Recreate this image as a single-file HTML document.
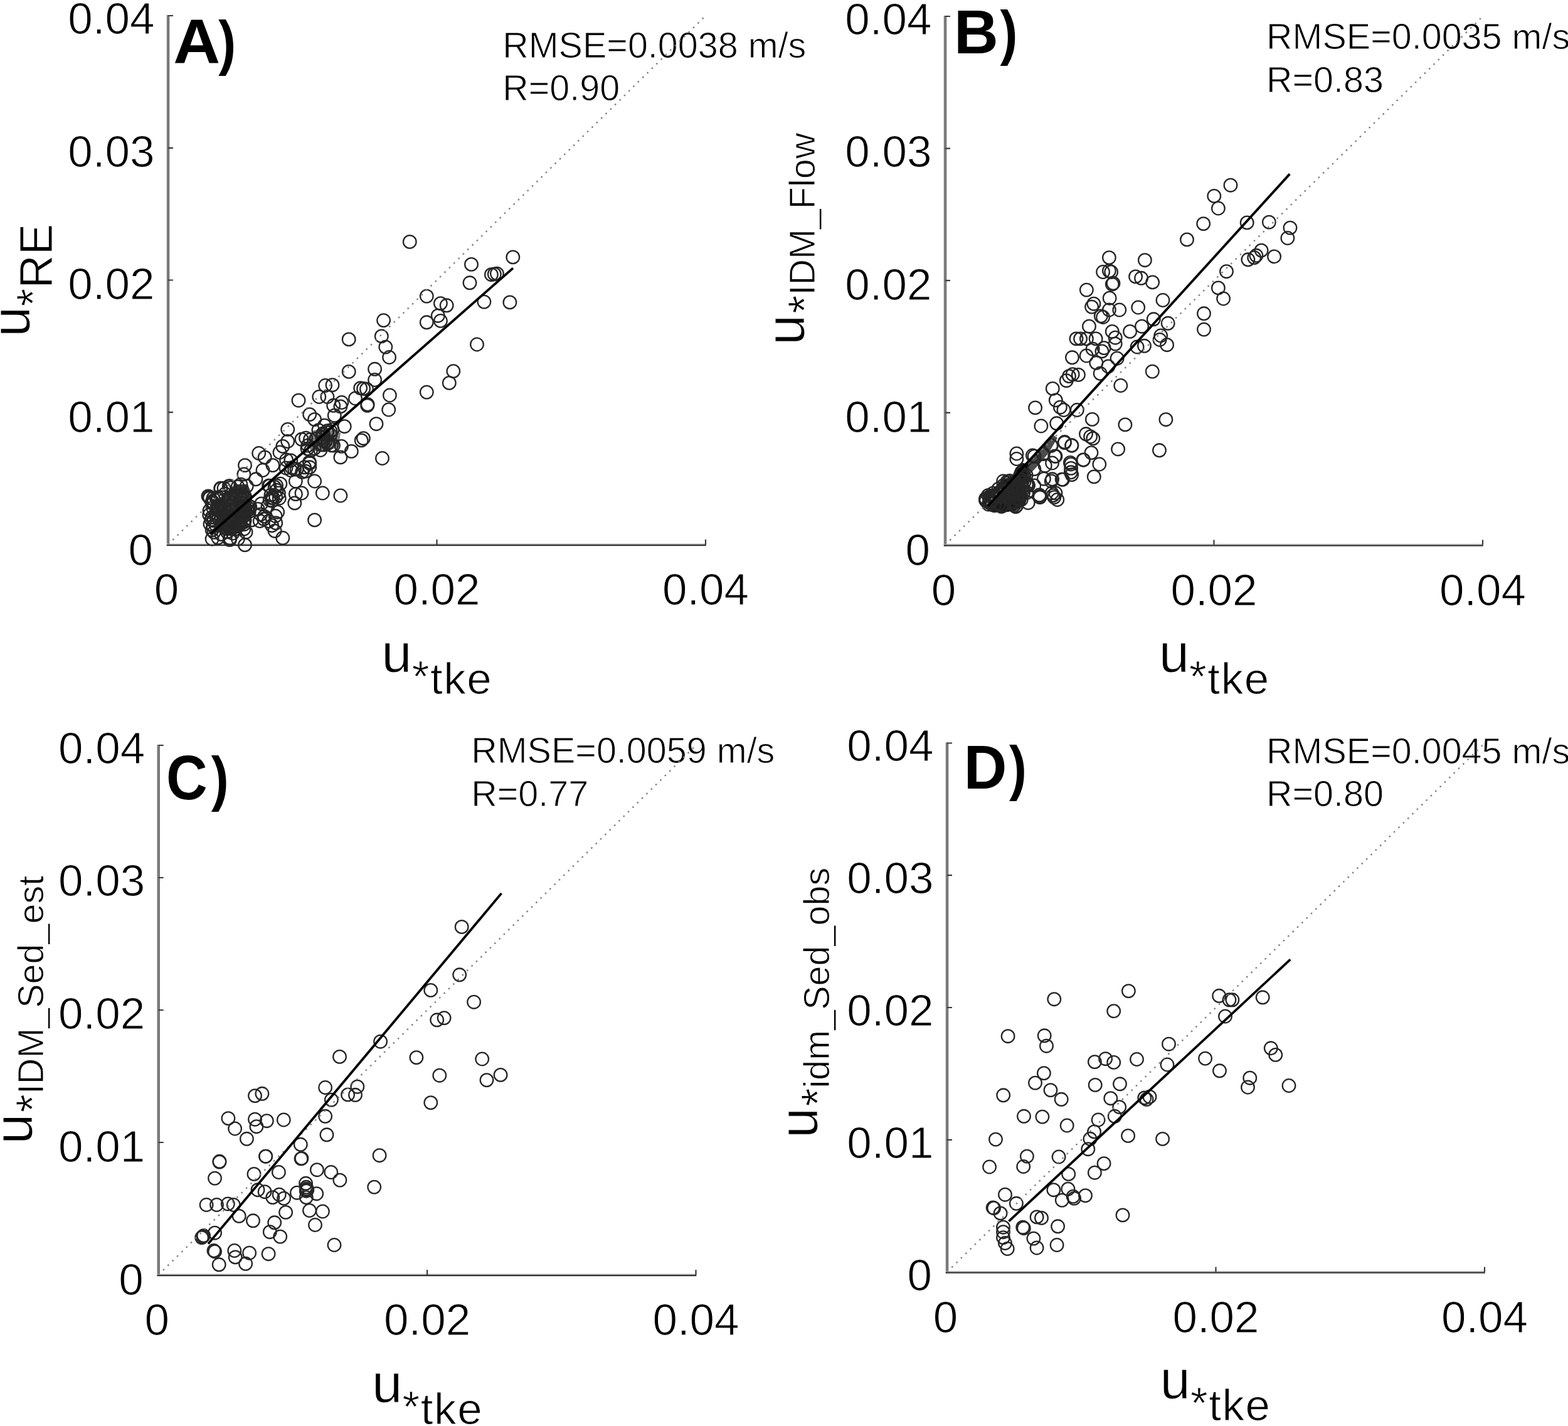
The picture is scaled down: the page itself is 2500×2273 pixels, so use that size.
<!DOCTYPE html>
<html><head><meta charset="utf-8"><title>u* comparison scatter plots</title>
<style>html,body{margin:0;padding:0;background:#fff;}svg{display:block;}.t{stroke:#fff;stroke-width:1px;}</style></head>
<body><svg xmlns="http://www.w3.org/2000/svg" width="2500" height="2273" viewBox="0 0 2500 2273" font-family="'Liberation Sans', Arial, Helvetica, sans-serif" fill="#000">
<rect width="2500" height="2273" fill="#fff"/>
<rect x="265.8" y="24.0" width="2.8" height="846.0" fill="#7a7a7a"/>
<rect x="268.6" y="24.0" width="1.5" height="846.0" fill="#555"/>
<rect x="265.8" y="866.3" width="860.0" height="1.7" fill="#bdbdbd"/>
<rect x="265.8" y="868.0" width="860.0" height="2.2" fill="#2e2e2e"/>
<path d="M268.0,657.2h8 M268.0,446.5h8 M268.0,235.8h8 M268.0,25.0h8 M696.5,868.0v-8 M1125.0,868.0v-8" stroke="#3a3a3a" stroke-width="2.2" fill="none"/>
<text x="244.0" y="901.0" class="t" text-anchor="end" font-size="71">0</text>
<text x="246.5" y="689.1" class="t" text-anchor="end" font-size="71">0.01</text>
<text x="246.5" y="477.3" class="t" text-anchor="end" font-size="71">0.02</text>
<text x="246.5" y="265.5" class="t" text-anchor="end" font-size="71">0.03</text>
<text x="246.5" y="53.6" class="t" text-anchor="end" font-size="71">0.04</text>
<text x="265.5" y="964.0" class="t" text-anchor="middle" font-size="71">0</text>
<text x="696.5" y="964.0" class="t" text-anchor="middle" font-size="71">0.02</text>
<text x="1125.0" y="964.0" class="t" text-anchor="middle" font-size="71">0.04</text>
<rect x="1504.8" y="25.0" width="2.8" height="845.5" fill="#7a7a7a"/>
<rect x="1507.6" y="25.0" width="1.5" height="845.5" fill="#555"/>
<rect x="1504.8" y="866.8" width="860.0" height="1.7" fill="#bdbdbd"/>
<rect x="1504.8" y="868.5" width="860.0" height="2.2" fill="#2e2e2e"/>
<path d="M1507.0,657.9h8 M1507.0,447.2h8 M1507.0,236.6h8 M1507.0,26.0h8 M1935.5,868.5v-8 M2364.0,868.5v-8" stroke="#3a3a3a" stroke-width="2.2" fill="none"/>
<text x="1483.0" y="900.7" class="t" text-anchor="end" font-size="71">0</text>
<text x="1485.5" y="689.2" class="t" text-anchor="end" font-size="71">0.01</text>
<text x="1485.5" y="477.7" class="t" text-anchor="end" font-size="71">0.02</text>
<text x="1485.5" y="266.1" class="t" text-anchor="end" font-size="71">0.03</text>
<text x="1485.5" y="54.6" class="t" text-anchor="end" font-size="71">0.04</text>
<text x="1504.5" y="964.5" class="t" text-anchor="middle" font-size="71">0</text>
<text x="1935.5" y="964.5" class="t" text-anchor="middle" font-size="71">0.02</text>
<text x="2364.0" y="964.5" class="t" text-anchor="middle" font-size="71">0.04</text>
<rect x="250.5" y="1187.0" width="2.8" height="847.0" fill="#7a7a7a"/>
<rect x="253.3" y="1187.0" width="1.5" height="847.0" fill="#555"/>
<rect x="250.5" y="2030.3" width="859.8" height="1.7" fill="#bdbdbd"/>
<rect x="250.5" y="2032.0" width="859.8" height="2.2" fill="#2e2e2e"/>
<path d="M252.7,1821.0h8 M252.7,1610.0h8 M252.7,1399.0h8 M252.7,1188.0h8 M681.1,2032.0v-8 M1109.5,2032.0v-8" stroke="#3a3a3a" stroke-width="2.2" fill="none"/>
<text x="228.7" y="2063.5" class="t" text-anchor="end" font-size="71">0</text>
<text x="231.2" y="1851.8" class="t" text-anchor="end" font-size="71">0.01</text>
<text x="231.2" y="1640.1" class="t" text-anchor="end" font-size="71">0.02</text>
<text x="231.2" y="1428.3" class="t" text-anchor="end" font-size="71">0.03</text>
<text x="231.2" y="1216.6" class="t" text-anchor="end" font-size="71">0.04</text>
<text x="250.2" y="2128.0" class="t" text-anchor="middle" font-size="71">0</text>
<text x="681.1" y="2128.0" class="t" text-anchor="middle" font-size="71">0.02</text>
<text x="1109.5" y="2128.0" class="t" text-anchor="middle" font-size="71">0.04</text>
<rect x="1507.8" y="1183.5" width="2.8" height="846.0" fill="#7a7a7a"/>
<rect x="1510.6" y="1183.5" width="1.5" height="846.0" fill="#555"/>
<rect x="1507.8" y="2025.8" width="860.0" height="1.7" fill="#bdbdbd"/>
<rect x="1507.8" y="2027.5" width="860.0" height="2.2" fill="#2e2e2e"/>
<path d="M1510.0,1816.8h8 M1510.0,1606.0h8 M1510.0,1395.2h8 M1510.0,1184.5h8 M1938.5,2027.5v-8 M2367.0,2027.5v-8" stroke="#3a3a3a" stroke-width="2.2" fill="none"/>
<text x="1486.0" y="2057.3" class="t" text-anchor="end" font-size="71">0</text>
<text x="1488.5" y="1846.2" class="t" text-anchor="end" font-size="71">0.01</text>
<text x="1488.5" y="1635.2" class="t" text-anchor="end" font-size="71">0.02</text>
<text x="1488.5" y="1424.1" class="t" text-anchor="end" font-size="71">0.03</text>
<text x="1488.5" y="1213.1" class="t" text-anchor="end" font-size="71">0.04</text>
<text x="1507.5" y="2123.5" class="t" text-anchor="middle" font-size="71">0</text>
<text x="1938.5" y="2123.5" class="t" text-anchor="middle" font-size="71">0.02</text>
<text x="2367.0" y="2123.5" class="t" text-anchor="middle" font-size="71">0.04</text>
<text x="608.3" y="1071.4" class="t" font-size="87">u<tspan font-size="71" dy="32" letter-spacing="1.6">*</tspan><tspan font-size="71" dy="3" letter-spacing="1.6">tke</tspan></text>
<text transform="translate(46.5,537.0) rotate(-90)" class="t" font-size="87">u<tspan font-size="74" dy="31">*</tspan><tspan font-size="74" dy="5">RE</tspan></text>
<text transform="translate(276.3,101.2) scale(1.03,1)" font-size="100.7" font-weight="bold">A</text>
<text transform="translate(348.3,100.9) scale(0.87,1)" font-size="96.3" font-weight="bold">)</text>
<text x="801.2" y="91.9" class="t" font-size="57.5">RMSE=0.0038 m/s</text>
<text x="801.2" y="160.3" class="t" font-size="57.5">R=0.90</text>
<text x="1847.7" y="1071.4" class="t" font-size="87">u<tspan font-size="71" dy="32" letter-spacing="1.6">*</tspan><tspan font-size="71" dy="3" letter-spacing="1.6">tke</tspan></text>
<text transform="translate(1281.5,550.1) rotate(-90)" class="t" font-size="87">u<tspan font-size="75" dy="26" dx="2">*</tspan><tspan font-size="57.5" dy="-8.2">IDM_Flow</tspan></text>
<text transform="translate(1521.1,84.8) scale(0.99,1)" font-size="99" font-weight="bold">B</text>
<text transform="translate(1594.6,85.0) scale(0.87,1)" font-size="96.3" font-weight="bold">)</text>
<text x="2019.0" y="78.3" class="t" font-size="57.5">RMSE=0.0035 m/s</text>
<text x="2019.0" y="146.5" class="t" font-size="57.5">R=0.83</text>
<text x="593.1" y="2235.1" class="t" font-size="87">u<tspan font-size="71" dy="32" letter-spacing="1.6">*</tspan><tspan font-size="71" dy="3" letter-spacing="1.6">tke</tspan></text>
<text transform="translate(51.0,1823.7) rotate(-90)" class="t" font-size="87">u<tspan font-size="75" dy="26" dx="2">*</tspan><tspan font-size="57.5" dy="-8.0">IDM_Sed_est</tspan></text>
<text transform="translate(265.0,1273.7) scale(0.9,1)" font-size="101" font-weight="bold">C</text>
<text transform="translate(336.8,1273.9) scale(0.87,1)" font-size="96.3" font-weight="bold">)</text>
<text x="751.2" y="1216.2" class="t" font-size="57.5">RMSE=0.0059 m/s</text>
<text x="751.2" y="1285.1" class="t" font-size="57.5">R=0.77</text>
<text x="1849.5" y="2228.6" class="t" font-size="87">u<tspan font-size="71" dy="32" letter-spacing="1.6">*</tspan><tspan font-size="71" dy="3" letter-spacing="1.6">tke</tspan></text>
<text transform="translate(1303.0,1814.0) rotate(-90)" class="t" font-size="87">u<tspan font-size="75" dy="26" dx="2">*</tspan><tspan font-size="57.5" dy="-7.0">idm_Sed_obs</tspan></text>
<text transform="translate(1536.8,1256.9) scale(0.96,1)" font-size="99" font-weight="bold">D</text>
<text transform="translate(1609.0,1257.0) scale(0.87,1)" font-size="96.3" font-weight="bold">)</text>
<text x="2019.0" y="1216.5" class="t" font-size="57.5">RMSE=0.0045 m/s</text>
<text x="2019.0" y="1285.2" class="t" font-size="57.5">R=0.80</text>
<path d="M345.0,800.0L360.0,785.0L375.0,772.0L395.0,772.0L402.0,790.0L400.0,820.0L390.0,845.0L370.0,855.0L352.0,852.0L345.0,835.0Z" fill="#000" fill-opacity="0.8"/>
<path d="M488.0,700.0L500.0,686.0L520.0,684.0L543.0,690.0L540.0,712.0L520.0,720.0L495.0,718.0Z" fill="#000" fill-opacity="0.5"/>
<path d="M1566.9,789.2L1574.9,781.3L1589.8,777.3L1592.7,768.4L1604.6,762.4L1614.6,757.5L1619.5,745.6L1629.4,737.6L1639.4,740.0L1639.4,764.4L1631.4,774.3L1639.4,789.2L1634.4,804.1L1619.5,814.0L1599.7,817.0L1579.8,816.0L1567.9,809.0Z" fill="#000" fill-opacity="0.9"/>
<path d="M1622.0,750.0L1640.0,733.0L1662.0,712.0L1680.0,694.0L1686.0,698.0L1672.0,722.0L1655.0,742.0L1640.0,758.0L1628.0,762.0Z" fill="#000" fill-opacity="0.7"/>
<g fill="none" stroke="#262626" stroke-width="2.3"><circle cx="653.3" cy="385.4" r="10.3"/><circle cx="817.8" cy="409.9" r="10.3"/><circle cx="751.5" cy="421.4" r="10.3"/><circle cx="749.0" cy="450.8" r="10.3"/><circle cx="783.4" cy="437.7" r="10.3"/><circle cx="788.3" cy="436.9" r="10.3"/><circle cx="792.4" cy="436.1" r="10.3"/><circle cx="771.9" cy="481.1" r="10.3"/><circle cx="812.9" cy="481.9" r="10.3"/><circle cx="680.3" cy="472.1" r="10.3"/><circle cx="702.4" cy="483.6" r="10.3"/><circle cx="712.2" cy="486.8" r="10.3"/><circle cx="698.3" cy="503.2" r="10.3"/><circle cx="702.4" cy="511.4" r="10.3"/><circle cx="680.3" cy="513.8" r="10.3"/><circle cx="611.6" cy="510.6" r="10.3"/><circle cx="608.3" cy="535.9" r="10.3"/><circle cx="614.8" cy="553.1" r="10.3"/><circle cx="620.6" cy="569.5" r="10.3"/><circle cx="760.5" cy="549.0" r="10.3"/><circle cx="597.6" cy="588.3" r="10.3"/><circle cx="597.6" cy="605.5" r="10.3"/><circle cx="722.8" cy="591.6" r="10.3"/><circle cx="716.3" cy="610.4" r="10.3"/><circle cx="574.7" cy="618.6" r="10.3"/><circle cx="579.6" cy="619.4" r="10.3"/><circle cx="584.5" cy="620.2" r="10.3"/><circle cx="621.4" cy="630.0" r="10.3"/><circle cx="680.3" cy="625.1" r="10.3"/><circle cx="586.2" cy="644.8" r="10.3"/><circle cx="566.5" cy="635.0" r="10.3"/><circle cx="619.7" cy="653.0" r="10.3"/><circle cx="556.2" cy="540.9" r="10.3"/><circle cx="556.2" cy="592.4" r="10.3"/><circle cx="518.6" cy="614.5" r="10.3"/><circle cx="530.0" cy="613.7" r="10.3"/><circle cx="508.8" cy="632.5" r="10.3"/><circle cx="521.9" cy="632.5" r="10.3"/><circle cx="476.0" cy="638.2" r="10.3"/><circle cx="544.8" cy="641.5" r="10.3"/><circle cx="585.7" cy="646.3" r="10.3"/><circle cx="531.7" cy="646.3" r="10.3"/><circle cx="542.9" cy="647.9" r="10.3"/><circle cx="493.7" cy="660.6" r="10.3"/><circle cx="501.6" cy="668.6" r="10.3"/><circle cx="533.3" cy="662.2" r="10.3"/><circle cx="549.2" cy="679.7" r="10.3"/><circle cx="600.0" cy="675.7" r="10.3"/><circle cx="517.5" cy="678.1" r="10.3"/><circle cx="458.7" cy="684.4" r="10.3"/><circle cx="579.4" cy="698.7" r="10.3"/><circle cx="576.2" cy="701.9" r="10.3"/><circle cx="481.0" cy="700.3" r="10.3"/><circle cx="544.4" cy="711.4" r="10.3"/><circle cx="528.6" cy="709.8" r="10.3"/><circle cx="560.3" cy="719.4" r="10.3"/><circle cx="542.9" cy="728.9" r="10.3"/><circle cx="609.5" cy="730.5" r="10.3"/><circle cx="412.7" cy="722.5" r="10.3"/><circle cx="422.2" cy="728.9" r="10.3"/><circle cx="446.0" cy="721.0" r="10.3"/><circle cx="450.8" cy="711.4" r="10.3"/><circle cx="458.7" cy="703.5" r="10.3"/><circle cx="390.5" cy="741.6" r="10.3"/><circle cx="388.9" cy="755.9" r="10.3"/><circle cx="419.0" cy="749.5" r="10.3"/><circle cx="434.9" cy="741.6" r="10.3"/><circle cx="407.9" cy="763.8" r="10.3"/><circle cx="493.7" cy="738.4" r="10.3"/><circle cx="493.7" cy="744.8" r="10.3"/><circle cx="463.5" cy="749.5" r="10.3"/><circle cx="473.0" cy="747.9" r="10.3"/><circle cx="487.3" cy="751.1" r="10.3"/><circle cx="471.4" cy="767.0" r="10.3"/><circle cx="501.6" cy="767.0" r="10.3"/><circle cx="514.3" cy="786.0" r="10.3"/><circle cx="542.9" cy="790.0" r="10.3"/><circle cx="471.4" cy="787.6" r="10.3"/><circle cx="481.0" cy="786.0" r="10.3"/><circle cx="469.8" cy="801.9" r="10.3"/><circle cx="441.3" cy="781.3" r="10.3"/><circle cx="438.1" cy="776.5" r="10.3"/><circle cx="444.4" cy="786.0" r="10.3"/><circle cx="439.7" cy="792.4" r="10.3"/><circle cx="501.6" cy="828.9" r="10.3"/><circle cx="357.1" cy="778.1" r="10.3"/><circle cx="366.7" cy="774.9" r="10.3"/><circle cx="338.1" cy="859.0" r="10.3"/><circle cx="390.5" cy="868.6" r="10.3"/><circle cx="450.8" cy="857.5" r="10.3"/><circle cx="438.1" cy="846.3" r="10.3"/><circle cx="439.7" cy="833.7" r="10.3"/><circle cx="420.6" cy="827.3" r="10.3"/><circle cx="414.3" cy="830.5" r="10.3"/><circle cx="427.0" cy="806.7" r="10.3"/><circle cx="411.1" cy="811.4" r="10.3"/><circle cx="430.2" cy="797.1" r="10.3"/><circle cx="339.7" cy="838.4" r="10.3"/><circle cx="366.7" cy="859.0" r="10.3"/><circle cx="379.4" cy="859.0" r="10.3"/><circle cx="388.9" cy="843.2" r="10.3"/><circle cx="401.6" cy="828.9" r="10.3"/><circle cx="341.1" cy="848.3" r="10.3"/><circle cx="383.9" cy="795.0" r="10.3"/><circle cx="365.7" cy="812.5" r="10.3"/><circle cx="376.3" cy="843.0" r="10.3"/><circle cx="388.8" cy="810.9" r="10.3"/><circle cx="383.8" cy="772.2" r="10.3"/><circle cx="362.3" cy="836.9" r="10.3"/><circle cx="347.6" cy="857.1" r="10.3"/><circle cx="393.3" cy="774.8" r="10.3"/><circle cx="333.7" cy="820.7" r="10.3"/><circle cx="395.9" cy="806.3" r="10.3"/><circle cx="346.7" cy="810.0" r="10.3"/><circle cx="334.0" cy="792.0" r="10.3"/><circle cx="361.8" cy="816.6" r="10.3"/><circle cx="347.8" cy="792.8" r="10.3"/><circle cx="346.9" cy="813.4" r="10.3"/><circle cx="389.0" cy="822.1" r="10.3"/><circle cx="375.7" cy="788.7" r="10.3"/><circle cx="340.2" cy="801.9" r="10.3"/><circle cx="381.1" cy="836.0" r="10.3"/><circle cx="395.7" cy="810.0" r="10.3"/><circle cx="388.4" cy="832.3" r="10.3"/><circle cx="352.6" cy="824.9" r="10.3"/><circle cx="392.0" cy="848.2" r="10.3"/><circle cx="366.4" cy="825.0" r="10.3"/><circle cx="334.3" cy="793.8" r="10.3"/><circle cx="386.2" cy="809.3" r="10.3"/><circle cx="343.8" cy="821.4" r="10.3"/><circle cx="379.8" cy="832.7" r="10.3"/><circle cx="357.5" cy="811.5" r="10.3"/><circle cx="366.6" cy="842.1" r="10.3"/><circle cx="367.4" cy="807.4" r="10.3"/><circle cx="365.3" cy="774.7" r="10.3"/><circle cx="335.0" cy="835.3" r="10.3"/><circle cx="358.8" cy="787.3" r="10.3"/><circle cx="366.2" cy="860.4" r="10.3"/><circle cx="384.4" cy="820.6" r="10.3"/><circle cx="390.5" cy="792.9" r="10.3"/><circle cx="366.9" cy="857.7" r="10.3"/><circle cx="371.3" cy="813.3" r="10.3"/><circle cx="526.8" cy="692.9" r="10.3"/><circle cx="523.3" cy="705.5" r="10.3"/><circle cx="522.0" cy="686.7" r="10.3"/><circle cx="513.7" cy="696.5" r="10.3"/><circle cx="514.5" cy="691.3" r="10.3"/><circle cx="515.6" cy="693.4" r="10.3"/><circle cx="510.9" cy="717.5" r="10.3"/><circle cx="518.9" cy="703.5" r="10.3"/><circle cx="507.9" cy="685.7" r="10.3"/><circle cx="527.1" cy="687.6" r="10.3"/><circle cx="531.5" cy="710.0" r="10.3"/><circle cx="515.4" cy="702.3" r="10.3"/><circle cx="415.7" cy="819.9" r="10.3"/><circle cx="421.6" cy="823.2" r="10.3"/><circle cx="433.2" cy="793.6" r="10.3"/><circle cx="416.7" cy="802.9" r="10.3"/><circle cx="442.6" cy="816.2" r="10.3"/><circle cx="433.8" cy="798.3" r="10.3"/><circle cx="433.6" cy="837.7" r="10.3"/><circle cx="428.5" cy="830.8" r="10.3"/><circle cx="435.2" cy="793.5" r="10.3"/><circle cx="439.1" cy="822.5" r="10.3"/><circle cx="362.8" cy="822.4" r="10.3"/><circle cx="394.8" cy="813.9" r="10.3"/><circle cx="366.5" cy="824.9" r="10.3"/><circle cx="344.6" cy="818.1" r="10.3"/><circle cx="374.8" cy="843.4" r="10.3"/><circle cx="338.4" cy="799.3" r="10.3"/><circle cx="338.2" cy="844.9" r="10.3"/><circle cx="379.2" cy="775.8" r="10.3"/><circle cx="376.5" cy="827.4" r="10.3"/><circle cx="367.9" cy="777.4" r="10.3"/><circle cx="344.9" cy="793.8" r="10.3"/><circle cx="334.0" cy="813.8" r="10.3"/><circle cx="362.0" cy="847.8" r="10.3"/><circle cx="367.3" cy="829.6" r="10.3"/><circle cx="366.0" cy="831.6" r="10.3"/><circle cx="363.1" cy="797.0" r="10.3"/><circle cx="389.1" cy="835.7" r="10.3"/><circle cx="353.4" cy="792.7" r="10.3"/><circle cx="351.7" cy="778.3" r="10.3"/><circle cx="384.1" cy="808.0" r="10.3"/><circle cx="389.6" cy="806.8" r="10.3"/><circle cx="332.0" cy="790.9" r="10.3"/><circle cx="393.9" cy="814.3" r="10.3"/><circle cx="398.7" cy="807.8" r="10.3"/><circle cx="337.0" cy="828.7" r="10.3"/><circle cx="384.9" cy="796.3" r="10.3"/><circle cx="337.9" cy="801.9" r="10.3"/><circle cx="340.0" cy="794.2" r="10.3"/><circle cx="386.2" cy="788.0" r="10.3"/><circle cx="370.0" cy="812.3" r="10.3"/><circle cx="345.0" cy="837.9" r="10.3"/><circle cx="340.9" cy="829.9" r="10.3"/><circle cx="339.9" cy="809.9" r="10.3"/><circle cx="346.5" cy="796.3" r="10.3"/><circle cx="352.7" cy="851.6" r="10.3"/><circle cx="346.3" cy="807.5" r="10.3"/><circle cx="390.1" cy="829.8" r="10.3"/><circle cx="346.5" cy="795.2" r="10.3"/><circle cx="384.5" cy="801.6" r="10.3"/><circle cx="352.2" cy="778.6" r="10.3"/><circle cx="338.1" cy="824.4" r="10.3"/><circle cx="348.5" cy="826.1" r="10.3"/><circle cx="357.3" cy="812.8" r="10.3"/><circle cx="397.2" cy="815.5" r="10.3"/><circle cx="371.1" cy="850.0" r="10.3"/><circle cx="511.2" cy="709.0" r="10.3"/><circle cx="521.0" cy="689.4" r="10.3"/><circle cx="487.6" cy="698.2" r="10.3"/><circle cx="501.0" cy="714.8" r="10.3"/><circle cx="522.2" cy="706.9" r="10.3"/><circle cx="515.5" cy="709.1" r="10.3"/><circle cx="494.4" cy="700.7" r="10.3"/><circle cx="495.3" cy="718.4" r="10.3"/><circle cx="490.0" cy="715.1" r="10.3"/><circle cx="490.8" cy="710.1" r="10.3"/><circle cx="504.2" cy="699.4" r="10.3"/><circle cx="530.0" cy="684.7" r="10.3"/><circle cx="432.0" cy="788.9" r="10.3"/><circle cx="445.2" cy="794.2" r="10.3"/><circle cx="429.8" cy="774.4" r="10.3"/><circle cx="428.6" cy="774.2" r="10.3"/><circle cx="446.8" cy="771.2" r="10.3"/><circle cx="440.5" cy="773.8" r="10.3"/><circle cx="456.0" cy="746.0" r="10.3"/><circle cx="481.6" cy="752.4" r="10.3"/><circle cx="463.7" cy="733.9" r="10.3"/><circle cx="485.5" cy="744.8" r="10.3"/><circle cx="465.2" cy="745.5" r="10.3"/><circle cx="469.6" cy="748.0" r="10.3"/><circle cx="456.6" cy="733.0" r="10.3"/><circle cx="493.4" cy="736.7" r="10.3"/><circle cx="1962.0" cy="295.2" r="10.3"/><circle cx="1935.8" cy="312.4" r="10.3"/><circle cx="1942.4" cy="332.0" r="10.3"/><circle cx="1918.7" cy="356.6" r="10.3"/><circle cx="1892.5" cy="381.9" r="10.3"/><circle cx="1988.2" cy="354.9" r="10.3"/><circle cx="2023.4" cy="354.1" r="10.3"/><circle cx="2057.0" cy="363.1" r="10.3"/><circle cx="2052.9" cy="379.5" r="10.3"/><circle cx="2011.1" cy="399.1" r="10.3"/><circle cx="1989.9" cy="413.8" r="10.3"/><circle cx="1999.7" cy="410.6" r="10.3"/><circle cx="2002.9" cy="407.3" r="10.3"/><circle cx="2031.6" cy="408.9" r="10.3"/><circle cx="1955.5" cy="432.7" r="10.3"/><circle cx="1942.4" cy="458.9" r="10.3"/><circle cx="1950.6" cy="476.0" r="10.3"/><circle cx="1919.5" cy="499.8" r="10.3"/><circle cx="1919.5" cy="525.1" r="10.3"/><circle cx="1825.4" cy="414.7" r="10.3"/><circle cx="1810.6" cy="440.9" r="10.3"/><circle cx="1819.6" cy="443.3" r="10.3"/><circle cx="1837.6" cy="449.9" r="10.3"/><circle cx="1814.7" cy="490.0" r="10.3"/><circle cx="1854.0" cy="478.5" r="10.3"/><circle cx="1839.3" cy="508.8" r="10.3"/><circle cx="1820.5" cy="520.2" r="10.3"/><circle cx="1862.2" cy="515.3" r="10.3"/><circle cx="1850.7" cy="535.0" r="10.3"/><circle cx="1849.1" cy="541.5" r="10.3"/><circle cx="1860.6" cy="549.7" r="10.3"/><circle cx="1824.5" cy="551.3" r="10.3"/><circle cx="1813.1" cy="553.0" r="10.3"/><circle cx="1801.6" cy="528.4" r="10.3"/><circle cx="1768.4" cy="410.6" r="10.3"/><circle cx="1758.6" cy="433.5" r="10.3"/><circle cx="1768.4" cy="431.8" r="10.3"/><circle cx="1771.7" cy="433.5" r="10.3"/><circle cx="1773.3" cy="453.1" r="10.3"/><circle cx="1775.0" cy="451.5" r="10.3"/><circle cx="1732.4" cy="462.1" r="10.3"/><circle cx="1740.6" cy="489.1" r="10.3"/><circle cx="1743.9" cy="484.2" r="10.3"/><circle cx="1769.2" cy="475.2" r="10.3"/><circle cx="1784.8" cy="494.0" r="10.3"/><circle cx="1768.4" cy="494.0" r="10.3"/><circle cx="1755.3" cy="503.9" r="10.3"/><circle cx="1758.6" cy="505.5" r="10.3"/><circle cx="1736.5" cy="520.2" r="10.3"/><circle cx="1773.3" cy="528.4" r="10.3"/><circle cx="1778.2" cy="538.2" r="10.3"/><circle cx="1716.0" cy="539.9" r="10.3"/><circle cx="1722.6" cy="539.9" r="10.3"/><circle cx="1732.4" cy="539.9" r="10.3"/><circle cx="1747.1" cy="539.9" r="10.3"/><circle cx="1760.2" cy="554.6" r="10.3"/><circle cx="1778.2" cy="548.1" r="10.3"/><circle cx="1742.2" cy="556.2" r="10.3"/><circle cx="1757.0" cy="559.9" r="10.3"/><circle cx="1709.5" cy="569.8" r="10.3"/><circle cx="1732.2" cy="567.0" r="10.3"/><circle cx="1747.8" cy="578.3" r="10.3"/><circle cx="1781.1" cy="571.2" r="10.3"/><circle cx="1767.0" cy="584.0" r="10.3"/><circle cx="1754.2" cy="595.3" r="10.3"/><circle cx="1704.5" cy="599.6" r="10.3"/><circle cx="1710.2" cy="596.7" r="10.3"/><circle cx="1719.4" cy="597.4" r="10.3"/><circle cx="1700.3" cy="606.7" r="10.3"/><circle cx="1678.3" cy="619.4" r="10.3"/><circle cx="1683.3" cy="637.9" r="10.3"/><circle cx="1690.4" cy="649.2" r="10.3"/><circle cx="1696.0" cy="653.5" r="10.3"/><circle cx="1717.3" cy="653.5" r="10.3"/><circle cx="1650.6" cy="649.9" r="10.3"/><circle cx="1659.9" cy="679.0" r="10.3"/><circle cx="1684.7" cy="674.8" r="10.3"/><circle cx="1741.4" cy="668.4" r="10.3"/><circle cx="1731.5" cy="691.8" r="10.3"/><circle cx="1742.8" cy="698.9" r="10.3"/><circle cx="1738.6" cy="696.0" r="10.3"/><circle cx="1697.4" cy="704.5" r="10.3"/><circle cx="1708.8" cy="710.2" r="10.3"/><circle cx="1676.2" cy="710.2" r="10.3"/><circle cx="1620.9" cy="723.0" r="10.3"/><circle cx="1620.9" cy="731.5" r="10.3"/><circle cx="1649.2" cy="727.2" r="10.3"/><circle cx="1681.8" cy="727.2" r="10.3"/><circle cx="1740.0" cy="721.6" r="10.3"/><circle cx="1727.2" cy="732.9" r="10.3"/><circle cx="1707.4" cy="740.0" r="10.3"/><circle cx="1752.8" cy="740.0" r="10.3"/><circle cx="1707.4" cy="752.8" r="10.3"/><circle cx="1744.3" cy="759.9" r="10.3"/><circle cx="1693.2" cy="764.1" r="10.3"/><circle cx="1676.2" cy="767.0" r="10.3"/><circle cx="1657.7" cy="791.1" r="10.3"/><circle cx="1679.0" cy="789.6" r="10.3"/><circle cx="1599.6" cy="767.0" r="10.3"/><circle cx="1575.5" cy="789.6" r="10.3"/><circle cx="1786.8" cy="614.5" r="10.3"/><circle cx="1793.9" cy="676.9" r="10.3"/><circle cx="1782.6" cy="715.9" r="10.3"/><circle cx="1658.0" cy="792.6" r="10.3"/><circle cx="1680.9" cy="792.6" r="10.3"/><circle cx="1685.8" cy="796.5" r="10.3"/><circle cx="1639.2" cy="801.5" r="10.3"/><circle cx="1837.3" cy="592.1" r="10.3"/><circle cx="1858.9" cy="668.7" r="10.3"/><circle cx="1848.5" cy="717.8" r="10.3"/><circle cx="1579.0" cy="790.6" r="10.3"/><circle cx="1613.4" cy="778.8" r="10.3"/><circle cx="1582.8" cy="796.4" r="10.3"/><circle cx="1626.0" cy="780.7" r="10.3"/><circle cx="1624.9" cy="765.0" r="10.3"/><circle cx="1630.9" cy="786.5" r="10.3"/><circle cx="1636.5" cy="772.6" r="10.3"/><circle cx="1578.3" cy="797.8" r="10.3"/><circle cx="1576.1" cy="804.0" r="10.3"/><circle cx="1600.1" cy="782.9" r="10.3"/><circle cx="1592.0" cy="779.1" r="10.3"/><circle cx="1630.2" cy="765.2" r="10.3"/><circle cx="1624.0" cy="763.7" r="10.3"/><circle cx="1622.1" cy="794.7" r="10.3"/><circle cx="1609.4" cy="792.9" r="10.3"/><circle cx="1627.4" cy="763.3" r="10.3"/><circle cx="1599.9" cy="773.6" r="10.3"/><circle cx="1639.6" cy="773.6" r="10.3"/><circle cx="1619.4" cy="807.6" r="10.3"/><circle cx="1603.2" cy="779.5" r="10.3"/><circle cx="1607.2" cy="793.9" r="10.3"/><circle cx="1583.2" cy="786.1" r="10.3"/><circle cx="1607.6" cy="786.9" r="10.3"/><circle cx="1592.4" cy="803.9" r="10.3"/><circle cx="1592.3" cy="785.4" r="10.3"/><circle cx="1571.8" cy="797.6" r="10.3"/><circle cx="1623.7" cy="773.0" r="10.3"/><circle cx="1616.9" cy="789.9" r="10.3"/><circle cx="1596.7" cy="807.4" r="10.3"/><circle cx="1637.2" cy="785.1" r="10.3"/><circle cx="1631.5" cy="779.5" r="10.3"/><circle cx="1631.0" cy="761.1" r="10.3"/><circle cx="1572.1" cy="797.1" r="10.3"/><circle cx="1623.5" cy="779.1" r="10.3"/><circle cx="1628.1" cy="754.9" r="10.3"/><circle cx="1621.4" cy="778.8" r="10.3"/><circle cx="1585.4" cy="805.7" r="10.3"/><circle cx="1605.4" cy="792.8" r="10.3"/><circle cx="1628.2" cy="796.5" r="10.3"/><circle cx="1631.3" cy="785.7" r="10.3"/><circle cx="1598.1" cy="784.5" r="10.3"/><circle cx="1629.0" cy="769.2" r="10.3"/><circle cx="1606.0" cy="767.5" r="10.3"/><circle cx="1617.0" cy="805.4" r="10.3"/><circle cx="1614.0" cy="799.7" r="10.3"/><circle cx="1609.7" cy="766.4" r="10.3"/><circle cx="1596.6" cy="805.7" r="10.3"/><circle cx="1633.1" cy="759.5" r="10.3"/><circle cx="1577.3" cy="800.6" r="10.3"/><circle cx="1606.3" cy="770.2" r="10.3"/><circle cx="1594.6" cy="791.8" r="10.3"/><circle cx="1618.9" cy="800.9" r="10.3"/><circle cx="1623.5" cy="796.3" r="10.3"/><circle cx="1571.6" cy="794.8" r="10.3"/><circle cx="1579.8" cy="791.8" r="10.3"/><circle cx="1585.5" cy="791.0" r="10.3"/><circle cx="1632.8" cy="768.5" r="10.3"/><circle cx="1603.7" cy="782.8" r="10.3"/><circle cx="1636.2" cy="757.5" r="10.3"/><circle cx="1610.9" cy="780.5" r="10.3"/><circle cx="1620.6" cy="806.2" r="10.3"/><circle cx="1589.6" cy="791.2" r="10.3"/><circle cx="1605.4" cy="783.4" r="10.3"/><circle cx="1571.7" cy="797.6" r="10.3"/><circle cx="1638.3" cy="771.9" r="10.3"/><circle cx="1572.4" cy="797.6" r="10.3"/><circle cx="1622.5" cy="777.1" r="10.3"/><circle cx="1614.1" cy="776.8" r="10.3"/><circle cx="1604.8" cy="773.8" r="10.3"/><circle cx="1585.0" cy="791.4" r="10.3"/><circle cx="1697.4" cy="705.6" r="10.3"/><circle cx="1708.8" cy="709.8" r="10.3"/><circle cx="1727.4" cy="733.2" r="10.3"/><circle cx="1706.4" cy="737.4" r="10.3"/><circle cx="1707.6" cy="746.4" r="10.3"/><circle cx="1708.8" cy="756.6" r="10.3"/><circle cx="1694.4" cy="764.4" r="10.3"/><circle cx="1677.6" cy="763.8" r="10.3"/><circle cx="1664.4" cy="763.2" r="10.3"/><circle cx="1683.0" cy="727.2" r="10.3"/><circle cx="1675.8" cy="710.4" r="10.3"/><circle cx="1663.2" cy="723.6" r="10.3"/><circle cx="1646.4" cy="726.0" r="10.3"/><circle cx="1677.6" cy="738.0" r="10.3"/><circle cx="1666.2" cy="742.2" r="10.3"/><circle cx="1648.8" cy="747.6" r="10.3"/><circle cx="1677.0" cy="786.0" r="10.3"/><circle cx="1657.2" cy="789.0" r="10.3"/><circle cx="1648.8" cy="774.0" r="10.3"/><circle cx="1683.0" cy="786.0" r="10.3"/><circle cx="732.7" cy="1553.8" r="10.3"/><circle cx="686.8" cy="1578.4" r="10.3"/><circle cx="755.6" cy="1597.2" r="10.3"/><circle cx="696.7" cy="1625.8" r="10.3"/><circle cx="708.1" cy="1622.6" r="10.3"/><circle cx="606.6" cy="1660.2" r="10.3"/><circle cx="663.9" cy="1685.6" r="10.3"/><circle cx="768.7" cy="1688.0" r="10.3"/><circle cx="700.8" cy="1714.2" r="10.3"/><circle cx="776.0" cy="1721.6" r="10.3"/><circle cx="798.1" cy="1713.4" r="10.3"/><circle cx="686.8" cy="1757.6" r="10.3"/><circle cx="569.8" cy="1732.2" r="10.3"/><circle cx="566.5" cy="1745.3" r="10.3"/><circle cx="736.2" cy="1477.4" r="10.3"/><circle cx="541.5" cy="1684.4" r="10.3"/><circle cx="518.6" cy="1733.5" r="10.3"/><circle cx="528.4" cy="1753.1" r="10.3"/><circle cx="554.6" cy="1744.9" r="10.3"/><circle cx="406.5" cy="1746.6" r="10.3"/><circle cx="417.9" cy="1743.3" r="10.3"/><circle cx="363.9" cy="1782.6" r="10.3"/><circle cx="374.6" cy="1799.0" r="10.3"/><circle cx="393.4" cy="1815.3" r="10.3"/><circle cx="406.5" cy="1784.2" r="10.3"/><circle cx="408.9" cy="1795.7" r="10.3"/><circle cx="425.3" cy="1786.7" r="10.3"/><circle cx="452.3" cy="1785.0" r="10.3"/><circle cx="518.6" cy="1779.3" r="10.3"/><circle cx="521.0" cy="1808.8" r="10.3"/><circle cx="479.3" cy="1824.3" r="10.3"/><circle cx="423.7" cy="1843.1" r="10.3"/><circle cx="480.9" cy="1846.4" r="10.3"/><circle cx="350.0" cy="1851.3" r="10.3"/><circle cx="423.6" cy="1843.2" r="10.3"/><circle cx="480.1" cy="1846.9" r="10.3"/><circle cx="349.9" cy="1852.1" r="10.3"/><circle cx="342.5" cy="1878.1" r="10.3"/><circle cx="405.0" cy="1871.4" r="10.3"/><circle cx="444.4" cy="1868.5" r="10.3"/><circle cx="505.4" cy="1864.7" r="10.3"/><circle cx="527.8" cy="1868.5" r="10.3"/><circle cx="541.9" cy="1881.1" r="10.3"/><circle cx="487.6" cy="1886.3" r="10.3"/><circle cx="488.3" cy="1895.2" r="10.3"/><circle cx="488.3" cy="1898.2" r="10.3"/><circle cx="473.5" cy="1901.2" r="10.3"/><circle cx="504.7" cy="1902.7" r="10.3"/><circle cx="488.3" cy="1908.6" r="10.3"/><circle cx="411.0" cy="1896.7" r="10.3"/><circle cx="422.1" cy="1899.7" r="10.3"/><circle cx="434.8" cy="1908.6" r="10.3"/><circle cx="445.2" cy="1904.2" r="10.3"/><circle cx="452.6" cy="1910.1" r="10.3"/><circle cx="329.1" cy="1920.5" r="10.3"/><circle cx="345.5" cy="1920.5" r="10.3"/><circle cx="363.3" cy="1919.0" r="10.3"/><circle cx="372.3" cy="1920.5" r="10.3"/><circle cx="381.2" cy="1938.4" r="10.3"/><circle cx="403.5" cy="1945.8" r="10.3"/><circle cx="455.6" cy="1932.4" r="10.3"/><circle cx="493.5" cy="1929.5" r="10.3"/><circle cx="514.4" cy="1931.0" r="10.3"/><circle cx="502.5" cy="1952.5" r="10.3"/><circle cx="437.7" cy="1948.8" r="10.3"/><circle cx="430.3" cy="1963.7" r="10.3"/><circle cx="446.7" cy="1971.1" r="10.3"/><circle cx="533.0" cy="1984.5" r="10.3"/><circle cx="323.2" cy="1971.1" r="10.3"/><circle cx="324.6" cy="1969.6" r="10.3"/><circle cx="321.7" cy="1972.6" r="10.3"/><circle cx="342.5" cy="1965.2" r="10.3"/><circle cx="342.5" cy="1994.9" r="10.3"/><circle cx="341.0" cy="1993.5" r="10.3"/><circle cx="373.8" cy="1993.5" r="10.3"/><circle cx="375.2" cy="2003.9" r="10.3"/><circle cx="397.6" cy="1997.2" r="10.3"/><circle cx="391.6" cy="2014.3" r="10.3"/><circle cx="428.1" cy="1998.7" r="10.3"/><circle cx="349.2" cy="2015.8" r="10.3"/><circle cx="488.3" cy="1892.3" r="10.3"/><circle cx="489.8" cy="1896.7" r="10.3"/><circle cx="605.1" cy="1841.7" r="10.3"/><circle cx="596.7" cy="1892.1" r="10.3"/><circle cx="1680.8" cy="1592.7" r="10.3"/><circle cx="1799.4" cy="1579.6" r="10.3"/><circle cx="1775.7" cy="1611.6" r="10.3"/><circle cx="1607.1" cy="1651.7" r="10.3"/><circle cx="1665.2" cy="1650.8" r="10.3"/><circle cx="1668.5" cy="1667.2" r="10.3"/><circle cx="1745.4" cy="1692.6" r="10.3"/><circle cx="1762.6" cy="1687.7" r="10.3"/><circle cx="1775.7" cy="1693.4" r="10.3"/><circle cx="1812.5" cy="1688.5" r="10.3"/><circle cx="1664.4" cy="1710.6" r="10.3"/><circle cx="1650.5" cy="1726.1" r="10.3"/><circle cx="1675.0" cy="1737.6" r="10.3"/><circle cx="1692.2" cy="1752.3" r="10.3"/><circle cx="1599.7" cy="1745.8" r="10.3"/><circle cx="1746.2" cy="1729.4" r="10.3"/><circle cx="1785.5" cy="1727.8" r="10.3"/><circle cx="1770.8" cy="1750.7" r="10.3"/><circle cx="1784.7" cy="1764.6" r="10.3"/><circle cx="1777.3" cy="1779.3" r="10.3"/><circle cx="1751.1" cy="1785.0" r="10.3"/><circle cx="1744.6" cy="1803.9" r="10.3"/><circle cx="1738.0" cy="1815.3" r="10.3"/><circle cx="1734.8" cy="1831.7" r="10.3"/><circle cx="1824.8" cy="1749.9" r="10.3"/><circle cx="1828.1" cy="1752.3" r="10.3"/><circle cx="1833.0" cy="1748.2" r="10.3"/><circle cx="1632.5" cy="1779.3" r="10.3"/><circle cx="1661.9" cy="1780.1" r="10.3"/><circle cx="1701.2" cy="1794.0" r="10.3"/><circle cx="1798.6" cy="1810.4" r="10.3"/><circle cx="1587.5" cy="1816.1" r="10.3"/><circle cx="1637.4" cy="1843.1" r="10.3"/><circle cx="1688.1" cy="1844.0" r="10.3"/><circle cx="1631.7" cy="1859.5" r="10.3"/><circle cx="1760.1" cy="1854.6" r="10.3"/><circle cx="1577.6" cy="1860.0" r="10.3"/><circle cx="1943.7" cy="1587.3" r="10.3"/><circle cx="1960.0" cy="1593.8" r="10.3"/><circle cx="1964.9" cy="1593.8" r="10.3"/><circle cx="1953.5" cy="1620.0" r="10.3"/><circle cx="2013.2" cy="1589.8" r="10.3"/><circle cx="1863.5" cy="1664.2" r="10.3"/><circle cx="1861.0" cy="1697.0" r="10.3"/><circle cx="1921.6" cy="1687.1" r="10.3"/><circle cx="1944.5" cy="1706.8" r="10.3"/><circle cx="2026.3" cy="1670.8" r="10.3"/><circle cx="2033.7" cy="1681.4" r="10.3"/><circle cx="1992.8" cy="1718.2" r="10.3"/><circle cx="1989.5" cy="1733.0" r="10.3"/><circle cx="2055.0" cy="1730.5" r="10.3"/><circle cx="1745.4" cy="1869.2" r="10.3"/><circle cx="1703.7" cy="1871.4" r="10.3"/><circle cx="1602.5" cy="1904.2" r="10.3"/><circle cx="1620.4" cy="1918.3" r="10.3"/><circle cx="1583.2" cy="1925.0" r="10.3"/><circle cx="1584.6" cy="1925.7" r="10.3"/><circle cx="1595.1" cy="1933.9" r="10.3"/><circle cx="1679.9" cy="1896.7" r="10.3"/><circle cx="1702.9" cy="1895.2" r="10.3"/><circle cx="1693.3" cy="1913.1" r="10.3"/><circle cx="1711.1" cy="1907.1" r="10.3"/><circle cx="1712.6" cy="1910.1" r="10.3"/><circle cx="1730.5" cy="1905.7" r="10.3"/><circle cx="1790.0" cy="1936.9" r="10.3"/><circle cx="1653.1" cy="1939.9" r="10.3"/><circle cx="1660.5" cy="1941.4" r="10.3"/><circle cx="1686.6" cy="1954.8" r="10.3"/><circle cx="1599.5" cy="1956.2" r="10.3"/><circle cx="1599.5" cy="1963.7" r="10.3"/><circle cx="1599.5" cy="1972.6" r="10.3"/><circle cx="1602.5" cy="1981.5" r="10.3"/><circle cx="1606.2" cy="1990.5" r="10.3"/><circle cx="1630.8" cy="1956.2" r="10.3"/><circle cx="1632.3" cy="1957.7" r="10.3"/><circle cx="1647.9" cy="1974.1" r="10.3"/><circle cx="1653.1" cy="1989.0" r="10.3"/><circle cx="1685.1" cy="1984.5" r="10.3"/><circle cx="1853.6" cy="1815.4" r="10.3"/></g>
<line x1="268.0" y1="868.0" x2="1125.0" y2="25.0" stroke="#808080" stroke-width="2.4" stroke-dasharray="2.6 7.7"/>
<line x1="335.0" y1="851.5" x2="818.0" y2="427.4" stroke="#000" stroke-width="3.8"/>
<line x1="1507.0" y1="868.5" x2="2364.0" y2="26.0" stroke="#808080" stroke-width="2.4" stroke-dasharray="2.6 7.7"/>
<line x1="1575.0" y1="806.8" x2="2056.3" y2="277.4" stroke="#000" stroke-width="3.8"/>
<line x1="252.7" y1="2032.0" x2="1109.5" y2="1188.0" stroke="#808080" stroke-width="2.4" stroke-dasharray="2.6 7.7"/>
<line x1="332.0" y1="1982.6" x2="799.5" y2="1423.9" stroke="#000" stroke-width="3.8"/>
<line x1="1510.0" y1="2027.5" x2="2367.0" y2="1184.5" stroke="#808080" stroke-width="2.4" stroke-dasharray="2.6 7.7"/>
<line x1="1608.5" y1="1946.7" x2="2057.3" y2="1529.3" stroke="#000" stroke-width="3.8"/>
</svg></body></html>
